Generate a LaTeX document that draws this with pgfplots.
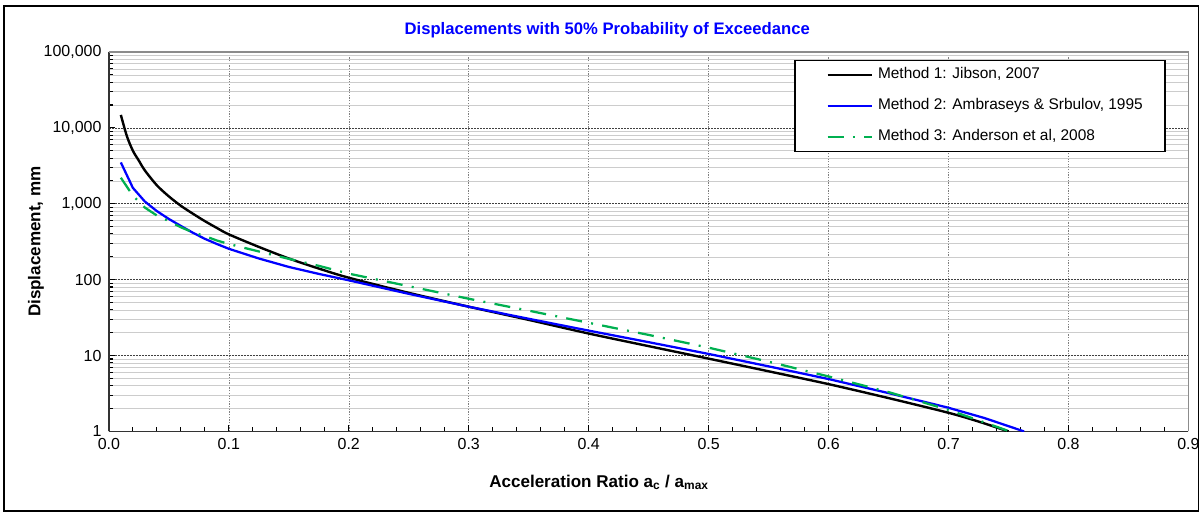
\documentclass[border=0pt]{standalone}
\usepackage{fontspec}
\setmainfont{Liberation Sans}
\usepackage{pgfplots}
\pgfplotsset{compat=1.18}
\definecolor{mOne}{RGB}{0,0,0}
\definecolor{mTwo}{RGB}{0,0,255}
\definecolor{mThree}{RGB}{0,176,80}
\definecolor{titleBlue}{RGB}{0,0,255}

\begin{document}
\begin{tikzpicture}[x=1pt,y=1pt]
% page extent and outer chart frame
\path (-81.75,-61.5) rectangle (821.25,324);
\draw[line width=1.4pt] (-78.75,-60) rectangle (818.25,319.5);
% chart title
\node[anchor=center, font=\bfseries\fontsize{12.5}{14}\selectfont, text=titleBlue]
  at (374.25,301.5) {Displacements with 50\% Probability of Exceedance};
\begin{axis}[
  at={(0,0)}, anchor=south west,
  scale only axis, width=810.75pt, height=285pt,
  xmin=0, xmax=0.9, ymin=1, ymax=100000,
  ymode=log,
  clip mode=individual,
  axis x line*=bottom, axis y line*=left,
  axis line style={line width=1.3pt, black!80},
  xtick={0,0.1,0.2,0.3,0.4,0.5,0.6,0.7,0.8,0.9},
  xticklabels={0.0,0.1,0.2,0.3,0.4,0.5,0.6,0.7,0.8,0.9},
  minor x tick num=4,
  ytick={1,10,100,1000,10000,100000},
  yticklabels={1,10,100,{1,000},{10,000},{100,000}},
  minor ytick={2,3,4,5,6,7,8,9,20,30,40,50,60,70,80,90,200,300,400,500,600,700,800,900,2000,3000,4000,5000,6000,7000,8000,9000,20000,30000,40000,50000,60000,70000,80000,90000},
  tick align=inside,
  major tick length=4.5pt, minor tick length=3pt,
  every tick/.style={black, line width=0.8pt},
  xmajorgrids=true, ymajorgrids=true, yminorgrids=true,
  major x grid style={black!50, line width=0.4pt, dash pattern=on 1pt off 1pt},
  major y grid style={black!75, line width=0.4pt, dash pattern=on 1.5pt off 0.75pt},
  minor y grid style={black!20, line width=0.4pt},
  tick label style={font=\fontsize{12}{14}\selectfont},
  yticklabel style={xshift=-2pt},
  xticklabel style={yshift=-2pt},
  xlabel={Acceleration Ratio a\textsubscript{c} / a\textsubscript{max}},
  every axis x label/.style={at={(axis description cs:0.454,-0.134)}, anchor=center,
    font=\bfseries\fontsize{12.8}{14}\selectfont},
  ylabel={Displacement, mm},
  every axis y label/.style={at={(axis description cs:-0.0675,0.5)}, anchor=center, rotate=90,
    font=\bfseries\fontsize{12.8}{14}\selectfont},
  legend style={at={(axis description cs:0.635,0.979)}, anchor=north west,
    draw=black, line width=1pt, fill=white,
    inner xsep=0pt, inner ysep=5pt, row sep=11pt,
    font=\fontsize{11.6}{13}\selectfont,
    nodes={text height=7.8pt, text depth=2.3pt, inner ysep=1pt, inner xsep=3.5pt},
    cells={anchor=west}},
  legend image code/.code={\path (0pt,0pt) (57pt,0pt);
    \draw[#1] (23.5pt,0pt) -- (57pt,0pt);},
]
\addplot[mOne, line width=1.8pt, smooth] coordinates {
  (0.01,14800) (0.015,7800) (0.02,5000) (0.025,3700) (0.03,2750) (0.04,1750)
  (0.05,1250) (0.06,940) (0.07,740) (0.08,590) (0.09,480) (0.1,395)
  (0.125,270) (0.15,190) (0.175,140) (0.2,106) (0.25,67) (0.3,44)
  (0.35,29.5) (0.4,19.5) (0.45,13.3) (0.5,9.1) (0.55,6.2) (0.6,4.2)
  (0.65,2.75) (0.7,1.76) (0.725,1.35) (0.75,1.0)
};
\addlegendentry{\makebox[212pt][l]{Method 1: Jibson, 2007}}
\addplot[mTwo, line width=1.7pt] coordinates {
  (0.01,3500) (0.02,1620) (0.03,1070) (0.04,800) (0.05,630) (0.06,510)
  (0.07,415) (0.08,345) (0.09,295) (0.1,255) (0.125,190) (0.15,147)
  (0.175,119) (0.2,98) (0.25,65) (0.3,44) (0.35,30.5) (0.4,21.3)
  (0.45,15) (0.5,10.5) (0.55,7.2) (0.6,4.9) (0.65,3.2) (0.7,2.05)
  (0.73,1.5) (0.763,1.0)
};
\addlegendentry{Method 2: Ambraseys \& Srbulov, 1995}
\addplot[mThree, line width=1.7pt, dash pattern=on 12pt off 7pt on 1.5pt off 7pt] coordinates {
  (0.01,2200) (0.02,1280) (0.03,890) (0.04,700) (0.05,590) (0.06,490)
  (0.07,420) (0.08,375) (0.09,328) (0.1,295) (0.125,235) (0.15,188)
  (0.175,152) (0.2,120) (0.25,82) (0.3,56) (0.35,39) (0.4,27)
  (0.45,18.7) (0.5,12.7) (0.55,8.3) (0.6,5.3) (0.65,3.3) (0.7,1.92)
  (0.725,1.4) (0.751,1.0)
};
\addlegendentry{Method 3: Anderson et al, 2008}
% gray top and right edges of the plot area
\draw[black!45, line width=1pt] (rel axis cs:0,1) -- (rel axis cs:1,1) -- (rel axis cs:1,0);
\end{axis}
\end{tikzpicture}
\end{document}
